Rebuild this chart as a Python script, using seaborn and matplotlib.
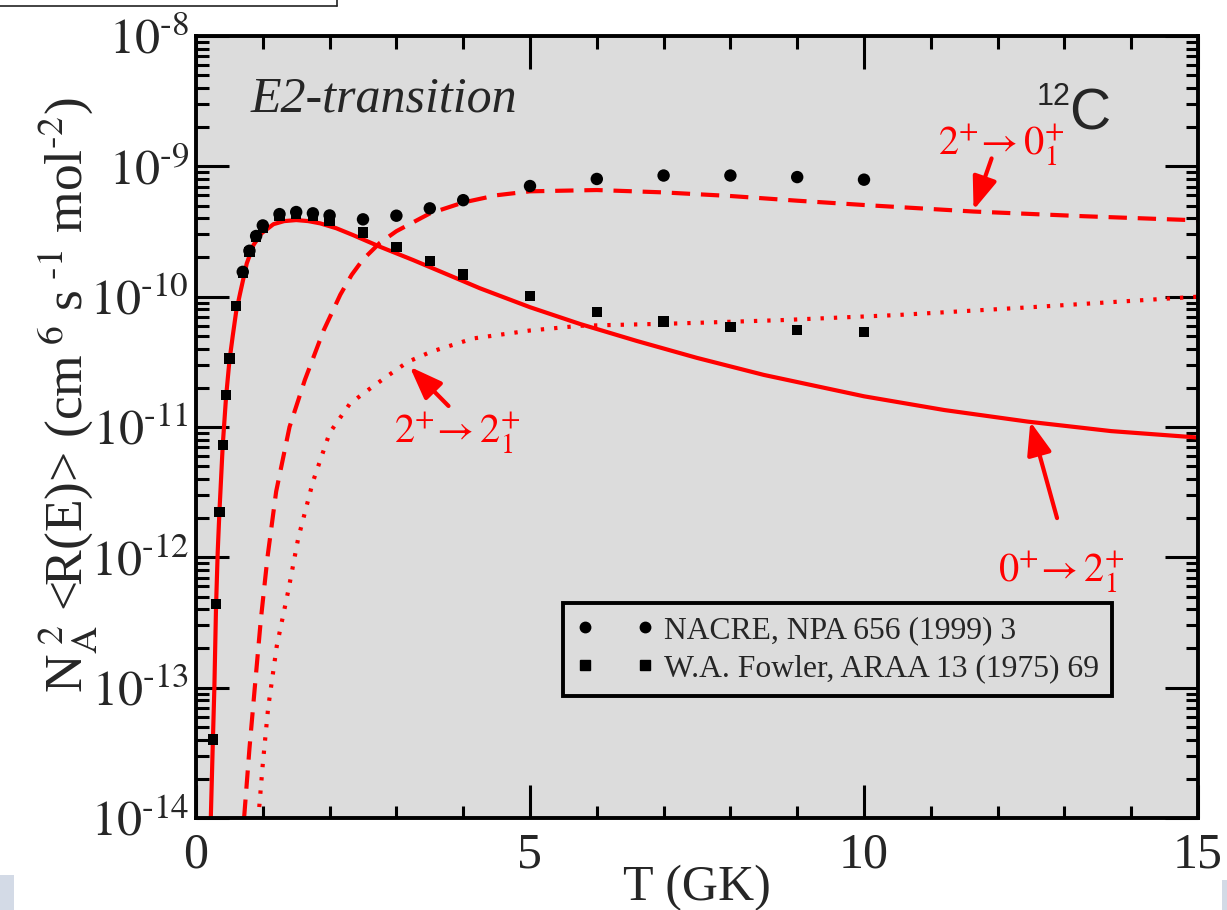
import numpy as np
import pandas as pd
import matplotlib
matplotlib.use("Agg")
import matplotlib.pyplot as plt
from matplotlib.lines import Line2D
from matplotlib.patches import Rectangle
from matplotlib.ticker import FixedLocator, FuncFormatter, MultipleLocator, LogLocator, NullFormatter
import seaborn as sns

# ---- tabulated rates (T in GK, N_A^2 <R(E)> in cm^6 s^-1 mol^-2) ----
nacre_T = [0.7, 0.8, 0.9, 1.0, 1.25, 1.5, 1.75, 2.0, 2.5, 3.0, 3.5, 4.0,
           5.0, 6.0, 7.0, 8.0, 9.0, 10.0]
nacre_rate = [1.55e-10, 2.25e-10, 2.92e-10, 3.52e-10, 4.30e-10, 4.46e-10,
              4.36e-10, 4.20e-10, 3.92e-10, 4.18e-10, 4.76e-10, 5.50e-10,
              7.06e-10, 8.00e-10, 8.50e-10, 8.50e-10, 8.27e-10, 7.90e-10]

fowler_T = [0.25, 0.3, 0.35, 0.4, 0.45, 0.5, 0.6, 0.7, 0.8, 0.9, 1.0, 1.25,
            1.5, 1.75, 2.0, 2.5, 3.0, 3.5, 4.0, 5.0, 6.0, 7.0, 8.0, 9.0, 10.0]
fowler_rate = [4.0e-14, 4.37e-13, 2.24e-12, 7.27e-12, 1.76e-11, 3.36e-11,
               8.47e-11, 1.51e-10, 2.21e-10, 2.88e-10, 3.40e-10, 4.17e-10,
               4.30e-10, 4.20e-10, 3.83e-10, 3.10e-10, 2.39e-10, 1.88e-10,
               1.48e-10, 1.01e-10, 7.66e-11, 6.45e-11, 5.87e-11, 5.54e-11,
               5.38e-11]

# 0+ -> 2_1+ (solid)
g_T = [0.21, 0.25, 0.275, 0.30, 0.325, 0.35, 0.40, 0.45, 0.50, 0.55, 0.60,
       0.66, 0.76, 0.86, 0.98, 1.16, 1.32, 1.50, 1.68, 1.86, 2.10, 2.35,
       2.75, 3.25, 3.75, 4.25, 5.0, 5.75, 6.6, 7.5, 8.5, 10.0, 11.2, 12.45,
       13.7, 15.0]
g_rate = [6e-15, 3.5e-14, 1.0e-13, 4.2e-13, 1.1e-12, 2.2e-12, 7.2e-12,
          1.7e-11, 3.2e-11, 5.0e-11, 7.6e-11, 1.06e-10, 1.8e-10, 2.49e-10,
          3.06e-10, 3.6e-10, 3.8e-10, 3.87e-10, 3.8e-10, 3.65e-10, 3.35e-10,
          2.97e-10, 2.42e-10, 1.91e-10, 1.49e-10, 1.16e-10, 8.3e-11, 6.17e-11,
          4.57e-11, 3.39e-11, 2.51e-11, 1.72e-11, 1.35e-11, 1.10e-11, 9.3e-12,
          8.3e-12]

# 2+ -> 0_1+ (dashed)
d_T = [0.70, 0.72, 0.80, 0.88, 0.97, 1.07, 1.20, 1.40, 1.63, 1.91, 2.16,
       2.33, 2.50, 2.75, 3.0, 3.5, 4.0, 4.5, 5.0, 6.0, 7.0, 8.0, 9.0, 10.0,
       11.64, 13.3, 15.0]
d_rate = [6e-15, 1e-14, 3.4e-14, 1e-13, 3.3e-13, 1e-12, 3.2e-12, 1e-11,
          2.3e-11, 5.5e-11, 1.035e-10, 1.47e-10, 1.93e-10, 2.58e-10, 3.18e-10,
          4.35e-10, 5.28e-10, 6.0e-10, 6.43e-10, 6.58e-10, 6.31e-10, 5.92e-10,
          5.45e-10, 5.05e-10, 4.5e-10, 4.14e-10, 3.85e-10]

# 2+ -> 2_1+ (dotted)
t_T = [0.90, 0.94, 1.0, 1.08, 1.21, 1.38, 1.53, 1.75, 2.0, 2.3, 2.5, 2.85,
       3.17, 3.52, 4.15, 5.0, 5.75, 7.25, 8.74, 10.5, 12.5, 15.0]
t_rate = [6e-15, 1.1e-14, 2.6e-14, 7e-14, 2.1e-13, 5.5e-13, 1.4e-12,
          3.8e-12, 9.0e-12, 1.5e-11, 1.8e-11, 2.43e-11, 3.16e-11, 3.78e-11,
          4.78e-11, 5.5e-11, 5.98e-11, 6.24e-11, 6.6e-11, 7.23e-11, 8.3e-11,
          1.0e-10]

legend_labels = ["NACRE, NPA 656 (1999) 3", "W.A. Fowler, ARAA 13 (1975) 69"]
y_exponents = [-8, -9, -10, -11, -12, -13, -14]
x_ticks = [0, 5, 10, 15]

# ---- style ----
sns.set_theme(style="ticks")
plt.rcParams["font.family"] = ["Liberation Serif", "DejaVu Serif"]
plt.rcParams["mathtext.fontset"] = "stix"

RED = "#ff0000"
BG = "#dcdcdc"

fig = plt.figure(figsize=(12.27, 9.10), dpi=100)
fig.patch.set_facecolor("white")
ax = fig.add_axes([196 / 1227, 1 - 818 / 910, 1002 / 1227, 782 / 910])
ax.set_facecolor(BG)

curves = pd.concat([
    pd.DataFrame({"T": g_T, "rate": g_rate, "branch": "g"}),
    pd.DataFrame({"T": d_T, "rate": d_rate, "branch": "d"}),
    pd.DataFrame({"T": t_T, "rate": t_rate, "branch": "t"}),
])
sns.lineplot(data=curves[curves.branch == "g"], x="T", y="rate", ax=ax,
             color=RED, lw=3.0, solid_capstyle="butt")
sns.lineplot(data=curves[curves.branch == "d"], x="T", y="rate", ax=ax,
             color=RED, lw=3.0, linestyle=(0, (4.4, 2.6)))
sns.lineplot(data=curves[curves.branch == "t"], x="T", y="rate", ax=ax,
             color=RED, lw=3.0, linestyle=(0, (0.8, 2.4)))

sns.scatterplot(x=nacre_T, y=nacre_rate, ax=ax, marker="o", s=80,
                color="black", edgecolor="none", zorder=5)
sns.scatterplot(x=fowler_T, y=fowler_rate, ax=ax, marker="s", s=55,
                color="black", edgecolor="none", zorder=5)

ax.set_yscale("log")
ax.set_xlim(0, 15)
ax.set_ylim(1e-14, 1e-8)

# ---- axes decoration ----
for sp in ax.spines.values():
    sp.set_visible(True)
    sp.set_linewidth(2.8)
    sp.set_color("black")

ax.xaxis.set_major_locator(FixedLocator(x_ticks))
ax.xaxis.set_minor_locator(MultipleLocator(1))
ax.yaxis.set_major_locator(FixedLocator([10.0 ** e for e in y_exponents]))
ax.yaxis.set_minor_locator(LogLocator(base=10, subs=np.arange(2, 10), numticks=20))
ax.yaxis.set_minor_formatter(NullFormatter())
ax.yaxis.set_major_formatter(
    FuncFormatter(lambda v, p: r"$10^{\text{-}%d}$" % round(-np.log10(v))))
ax.xaxis.set_major_formatter(FuncFormatter(lambda v, p: "%d" % v))

ax.tick_params(which="both", direction="in", top=True, right=True,
               color="black", width=2.2)
ax.tick_params(which="major", length=24, labelsize=36, pad=10)
ax.tick_params(which="minor", length=9)
ax.tick_params(axis="y", which="major", pad=5)

ax.set_xlabel("T (GK)", fontsize=36, labelpad=-10)
ax.set_ylabel(r"N$_{\mathrm{A}}^{\ 2}$ <R(E)> (cm$^{\ 6}$ s$^{\ \text{-}1}$ mol$^{\text{-}2}$)",
              fontsize=38.5)
ax.yaxis.set_label_coords(-0.096, 0.54)

# ---- text and arrows ----
ax.text(0.054, 0.903, "E2-transition", transform=ax.transAxes,
        fontsize=36, style="italic", ha="left", va="baseline")
ax.text(0.912, 0.880, "C", transform=ax.transAxes, fontsize=41,
        family="Liberation Sans", ha="right", va="baseline")
ax.text(0.873, 0.912, "12", transform=ax.transAxes, fontsize=22,
        family="Liberation Sans", ha="right", va="baseline")

label_kw = dict(color=RED, fontsize=29, ha="center", va="baseline")
ax.text(12.05, 1.22e-9, r"$2^{+}\!\rightarrow 0^{+}_{1}$", **label_kw)
ax.text(3.91, 7.56e-12, r"$2^{+}\!\rightarrow 2^{+}_{1}$", **label_kw)
ax.text(12.95, 6.45e-13, r"$0^{+}\!\rightarrow 2^{+}_{1}$", **label_kw)

arrow_kw = dict(arrowstyle="-|>,head_length=0.8,head_width=0.3",
                color=RED, lw=3, mutation_scale=25, shrinkA=0, shrinkB=0)
ax.annotate("", xy=(11.64, 4.62e-10), xytext=(11.91, 1.15e-9), arrowprops=arrow_kw)
ax.annotate("", xy=(3.2, 2.9e-11), xytext=(3.78, 1.45e-11), arrowprops=arrow_kw)
ax.annotate("", xy=(12.49, 1.10e-11), xytext=(12.89, 2.0e-12), arrowprops=arrow_kw)

# ---- legend ----
handles = [
    Line2D([], [], ls="none", marker="o", color="black", ms=7.5),
    Line2D([], [], ls="none", marker="s", color="black", ms=6.5),
]
leg = ax.legend(handles, legend_labels, loc="upper left",
                bbox_to_anchor=(0.366, 0.275), borderaxespad=0,
                numpoints=2, handlelength=2.5, handletextpad=0.3,
                borderpad=0.4, labelspacing=0.3, fontsize=22.8,
                fancybox=False, framealpha=1, facecolor=BG, edgecolor="black")
leg.get_frame().set_linewidth(2.8)
leg.set_zorder(10)

# ---- page furniture around the plot ----
fig.add_artist(Line2D([0, 337 / 1227], [1 - 6 / 910, 1 - 6 / 910],
                      transform=fig.transFigure, color="#222222", lw=1.2))
fig.add_artist(Line2D([337 / 1227, 337 / 1227], [1 - 6 / 910, 1],
                      transform=fig.transFigure, color="#222222", lw=1.2))
fig.add_artist(Rectangle((0, 0), 14 / 1227, 35 / 910, transform=fig.transFigure,
                         color="#d3dae6", lw=0))
fig.add_artist(Rectangle((1 - 5 / 1227, 0), 5 / 1227, 30 / 910,
                         transform=fig.transFigure, color="#d3dae6", lw=0))

fig.savefig("out.png", dpi=100)
